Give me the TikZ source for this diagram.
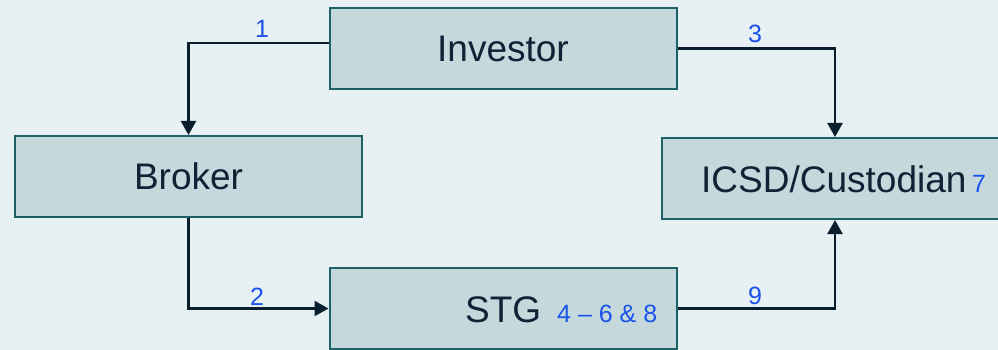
\documentclass[tikz,border=0pt]{standalone}
\usepackage{fontspec}
\setmainfont{Liberation Sans}
\usetikzlibrary{arrows.meta}
\definecolor{bgc}{HTML}{E7F0F3}
\definecolor{boxfill}{HTML}{C5D9DC}
\definecolor{boxline}{HTML}{1D6166}
\definecolor{txt}{HTML}{0D2336}
\definecolor{lbl}{HTML}{1A52EE}
\definecolor{arrc}{HTML}{0A1F2E}
\tikzset{
  box/.style={draw=boxline, line width=2pt, fill=boxfill, minimum width=347pt, minimum height=81pt, inner sep=0pt, text=txt, font=\fontsize{37}{40}\selectfont},
  boxtext/.style={text=txt, font=\fontsize{37}{40}\selectfont, inner sep=0pt},
  arr/.style={draw=arrc, line width=2.2pt, -{Triangle[length=14pt,width=15pt]}},
  lab/.style={text=lbl, font=\fontsize{25}{28}\selectfont, inner sep=0pt},
}
\begin{document}
\begin{tikzpicture}[x=1pt,y=-1pt]
\useasboundingbox (0,0) rectangle (998,350);
\clip (0,0) rectangle (998,350);
\fill[bgc] (0,0) rectangle (998,350);
\node[box] (inv) at (503,48.5) {Investor};
\node[box] (bro) at (188.5,176.5) {Broker};
\node[box] (icsd) at (835,178.5) {};
\node[box] (stg) at (503,308.5) {};
\node[boxtext, anchor=base west] (icsdt) at (701,192) {ICSD/Custodian};
\node[lab, anchor=base west] (l7) at (972,192) {7};
\node[boxtext, anchor=base west] (stgt) at (465,322) {STG};
\node[lab, anchor=base west] (l468) at (557,322) {4 – 6 \& 8};
\draw[arr] ([yshift=5.5pt]inv.west) -| (bro.north);
\draw[arr] (inv.east) -| (icsd.north);
\draw[arr] (bro.south) |- (stg.west);
\draw[arr] (stg.east) -| (icsd.south);
\node[lab] (l1) at (262,29) {1};
\node[lab] (l3) at (755,34) {3};
\node[lab] (l2) at (257,297) {2};
\node[lab] (l9) at (755,296) {9};
\end{tikzpicture}
\end{document}
